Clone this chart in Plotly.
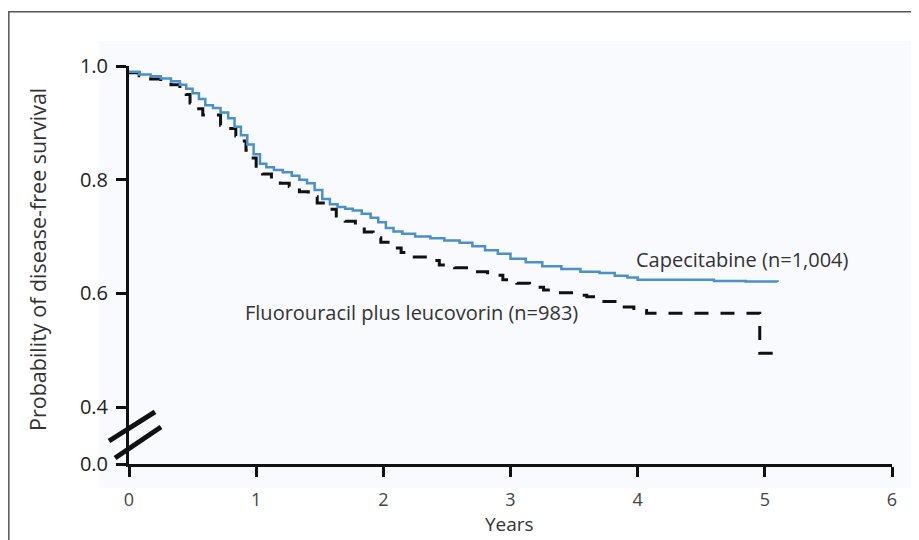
import plotly.graph_objects as go

# ---- data ----
cape_t = [0, 0.08, 0.17, 0.25, 0.33, 0.40, 0.45, 0.50, 0.55, 0.60, 0.66, 0.72, 0.78, 0.83, 0.88,
          0.93, 0.98, 1.03, 1.08, 1.14, 1.21, 1.28, 1.34, 1.40, 1.46, 1.52, 1.58, 1.64, 1.70, 1.76,
          1.83, 1.90, 1.96, 2.02, 2.08, 2.15, 2.25, 2.37, 2.48, 2.60, 2.70, 2.80, 2.90, 3.00, 3.12,
          3.25, 3.40, 3.55, 3.70, 3.82, 3.92, 4.00, 4.30, 4.60, 4.85, 5.10]
cape_s = [0.990, 0.985, 0.982, 0.978, 0.973, 0.967, 0.960, 0.952, 0.942, 0.931, 0.926, 0.918, 0.908,
          0.893, 0.878, 0.862, 0.845, 0.828, 0.822, 0.817, 0.813, 0.807, 0.800, 0.794, 0.782, 0.766,
          0.757, 0.752, 0.749, 0.746, 0.740, 0.733, 0.725, 0.715, 0.709, 0.705, 0.700, 0.697, 0.693,
          0.689, 0.683, 0.676, 0.670, 0.661, 0.655, 0.648, 0.643, 0.638, 0.636, 0.631, 0.628, 0.624,
          0.624, 0.622, 0.621, 0.620]

fu_t = [0, 0.08, 0.17, 0.25, 0.33, 0.40, 0.45, 0.48, 0.52, 0.58, 0.65, 0.72, 0.78, 0.84, 0.88,
        0.92, 0.96, 1.00, 1.05, 1.12, 1.19, 1.26, 1.34, 1.41, 1.48, 1.55, 1.63, 1.70, 1.78, 1.85,
        1.92, 1.98, 2.05, 2.14, 2.23, 2.33, 2.44, 2.56, 2.70, 2.82, 2.94, 3.05, 3.15, 3.26, 3.37,
        3.48, 3.60, 3.72, 3.86, 3.97, 4.07, 4.96, 5.10]
fu_s = [0.988, 0.983, 0.977, 0.972, 0.967, 0.960, 0.950, 0.935, 0.925, 0.914, 0.914, 0.896, 0.890,
        0.877, 0.868, 0.852, 0.838, 0.820, 0.810, 0.802, 0.794, 0.788, 0.779, 0.770, 0.759, 0.748,
        0.736, 0.727, 0.717, 0.708, 0.698, 0.690, 0.680, 0.672, 0.664, 0.658, 0.650, 0.645, 0.638,
        0.632, 0.624, 0.618, 0.611, 0.606, 0.601, 0.597, 0.594, 0.586, 0.576, 0.570, 0.565, 0.495,
        0.495]

x_ticks = [0, 1, 2, 3, 4, 5, 6]
y_tickvals = [0.3, 0.4, 0.6, 0.8, 1.0]      # 0.3 stands in for the broken-axis 0.0
y_ticktext = ["0.0", "0.4", "0.6", "0.8", "1.0"]

label_cape = "Capecitabine (n=1,004)"
label_fu = "Fluorouracil plus leucovorin (n=983)"
x_title = "Years"
y_title = "Probability of disease-free survival"

FONT = "Open Sans, Noto Sans, sans-serif"

fig = go.Figure()
fig.add_trace(go.Scatter(x=fu_t, y=fu_s, mode="lines", line_shape="hv",
                         line=dict(color="#111111", width=3, dash="14px,12px"),
                         showlegend=False, hoverinfo="skip"))
fig.add_trace(go.Scatter(x=cape_t, y=cape_s, mode="lines", line_shape="hv",
                         line=dict(color="#4a90c9", width=2.5),
                         showlegend=False, hoverinfo="skip"))

fig.add_annotation(x=3.97, y=0.659, xref="x", yref="y", text=label_cape, showarrow=False,
                   xanchor="left", yanchor="middle", font=dict(family=FONT, size=20, color="#333333"))
fig.add_annotation(x=0.896, y=0.567, xref="x", yref="y", text=label_fu, showarrow=False,
                   xanchor="left", yanchor="middle", font=dict(family=FONT, size=20, color="#333333"))

# axis titles placed as annotations for exact positioning
fig.add_annotation(x=-0.1206, y=0.515, xref="paper", yref="paper", text=y_title, showarrow=False,
                   textangle=-90, xanchor="center", yanchor="middle",
                   font=dict(family=FONT, size=21.5, color="#333333"))
fig.add_annotation(x=0.4993, y=-0.1500, xref="paper", yref="paper", text=x_title, showarrow=False,
                   xanchor="center", yanchor="middle",
                   font=dict(family=FONT, size=19, color="#333333"))

# background panel + outer frame
fig.add_shape(type="rect", xref="paper", yref="paper", x0=-0.04, x1=1.025, y0=-0.06, y1=1.063,
              fillcolor="#f9fafd", line_width=0, layer="below")
fig.add_shape(type="rect", xref="paper", yref="paper", x0=-0.1575, x1=1.08, y0=-0.25, y1=1.136,
              fillcolor="rgba(0,0,0,0)", line=dict(color="#555555", width=1.5), layer="above")

# axis break marks (paper coords so they are not clipped by the plot area)
for (xa, xb, ya, yb) in [(-0.0262, 0.0341, 0.0578, 0.1307), (-0.0183, 0.0419, 0.0151, 0.0930)]:
    fig.add_shape(type="line", xref="paper", yref="paper", x0=xa, x1=xb, y0=ya, y1=yb,
                  line=dict(color="#111111", width=5), layer="above")

# the page body adds an 8px offset, so the figure is 8px smaller than the window
fig.update_layout(
    width=911, height=532,
    margin=dict(l=121, r=27, t=58, b=76, autoexpand=False),
    paper_bgcolor="white", plot_bgcolor="rgba(0,0,0,0)",
    font=dict(family=FONT, size=18, color="#333333"),
)
fig.update_xaxes(range=[0, 6], tickvals=x_ticks, showline=True, linecolor="#111111", linewidth=3,
                 ticks="outside", ticklen=10, tickwidth=3, tickcolor="#111111",
                 showgrid=False, zeroline=False, automargin=False, ticklabelstandoff=7,
                 tickfont=dict(size=18, color="#444444"))
fig.update_yaxes(range=[0.3, 1.0], tickvals=y_tickvals, ticktext=y_ticktext, showline=True,
                 linecolor="#111111", linewidth=3, ticks="outside", ticklen=10, tickwidth=3,
                 tickcolor="#111111", showgrid=False, zeroline=False, ticklabelstandoff=4,
                 automargin=False, tickfont=dict(size=20, color="#222222"))

fig.write_html("out.html")
